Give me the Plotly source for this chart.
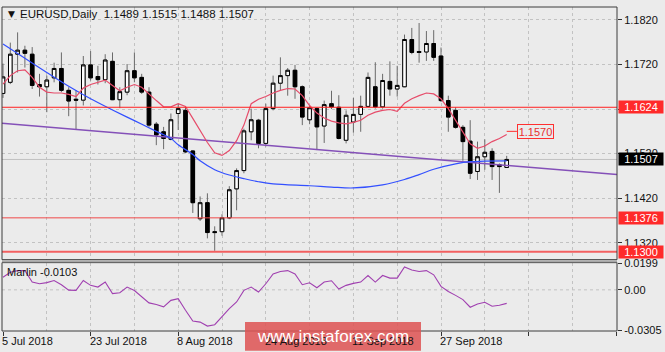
import plotly.graph_objects as go

# ---------------- data ----------------
dates = ["2018-07-05","2018-07-06","2018-07-09","2018-07-10","2018-07-11","2018-07-12","2018-07-13",
         "2018-07-16","2018-07-17","2018-07-18","2018-07-19","2018-07-20","2018-07-23","2018-07-24",
         "2018-07-25","2018-07-26","2018-07-27","2018-07-30","2018-07-31","2018-08-01","2018-08-02",
         "2018-08-03","2018-08-06","2018-08-07","2018-08-08","2018-08-09","2018-08-10","2018-08-13",
         "2018-08-14","2018-08-15","2018-08-16","2018-08-17","2018-08-20","2018-08-21","2018-08-22",
         "2018-08-23","2018-08-24","2018-08-27","2018-08-28","2018-08-29","2018-08-30","2018-08-31",
         "2018-09-03","2018-09-04","2018-09-05","2018-09-06","2018-09-07","2018-09-10","2018-09-11",
         "2018-09-12","2018-09-13","2018-09-14","2018-09-17","2018-09-18","2018-09-19","2018-09-20",
         "2018-09-21","2018-09-24","2018-09-25","2018-09-26","2018-09-27","2018-09-28","2018-10-01",
         "2018-10-02","2018-10-03","2018-10-04","2018-10-05","2018-10-08","2018-10-09","2018-10-10"]

opens = [1.1655,1.1680,1.1743,1.1752,1.1743,1.1675,1.1670,1.1690,1.1711,1.1662,
         1.1642,1.1640,1.1719,1.1693,1.1686,1.1727,1.1641,1.1658,1.1706,1.1691,
         1.1658,1.1586,1.1569,1.1552,1.1610,1.1617,1.1526,1.1374,1.1410,1.1345,
         1.1345,1.1376,1.1441,1.1482,1.1569,1.1595,1.1543,1.1621,1.1678,1.1695,
         1.1707,1.1670,1.1596,1.1621,1.1582,1.1632,1.1624,1.1550,1.1591,1.1608,
         1.1626,1.1670,1.1625,1.1682,1.1665,1.1670,1.1776,1.1749,1.1748,1.1767,
         1.1739,1.1639,1.1617,1.1579,1.1548,1.1480,1.1513,1.1525,1.1495,1.1489]
highs = [1.1722,1.1769,1.1792,1.1762,1.1759,1.1699,1.1695,1.1724,1.1747,1.1669,
         1.1662,1.1739,1.1750,1.1717,1.1743,1.1747,1.1669,1.1721,1.1747,1.1699,
         1.1669,1.1591,1.1580,1.1610,1.1632,1.1626,1.1528,1.1424,1.1431,1.1357,
         1.1384,1.1447,1.1487,1.1576,1.1621,1.1598,1.1632,1.1695,1.1736,1.1712,
         1.1719,1.1673,1.1628,1.1624,1.1639,1.1661,1.1651,1.1617,1.1645,1.1650,
         1.1702,1.1725,1.1699,1.1727,1.1717,1.1787,1.1802,1.1813,1.1795,1.1797,
         1.1758,1.1650,1.1624,1.1584,1.1595,1.1547,1.1552,1.1532,1.1498,1.1515]
lows = [1.1645,1.1676,1.1702,1.1713,1.1665,1.1648,1.1613,1.1680,1.1658,1.1604,
        1.1573,1.1628,1.1684,1.1675,1.1678,1.1640,1.1622,1.1651,1.1680,1.1654,
        1.1580,1.1539,1.1530,1.1550,1.1573,1.1521,1.1387,1.1369,1.1330,1.1302,
        1.1336,1.1373,1.1393,1.1476,1.1550,1.1532,1.1536,1.1617,1.1662,1.1650,
        1.1643,1.1584,1.1586,1.1528,1.1544,1.1620,1.1552,1.1543,1.1567,1.1569,
        1.1624,1.1621,1.1621,1.1650,1.1648,1.1669,1.1743,1.1724,1.1728,1.1728,
        1.1636,1.1569,1.1576,1.1504,1.1463,1.1461,1.1484,1.1461,1.1432,1.1488]
closes = [1.1692,1.1743,1.1752,1.1745,1.1673,1.1670,1.1685,1.1711,1.1662,1.1638,
          1.1640,1.1719,1.1690,1.1686,1.1730,1.1641,1.1659,1.1706,1.1690,1.1658,
          1.1584,1.1562,1.1554,1.1596,1.1621,1.1524,1.1410,1.1410,1.1343,1.1343,
          1.1376,1.1439,1.1482,1.1571,1.1596,1.1543,1.1621,1.1678,1.1695,1.1707,
          1.1670,1.1602,1.1623,1.1580,1.1630,1.1625,1.1554,1.1606,1.1608,1.1626,
          1.1691,1.1625,1.1684,1.1665,1.1673,1.1776,1.1747,1.1747,1.1767,1.1736,
          1.1639,1.1602,1.1579,1.1547,1.1476,1.1513,1.1523,1.1491,1.1491,1.1507]

red_ma = [1.1676,1.1695,1.1706,1.1708,1.1691,1.1669,1.1658,1.1656,1.1656,1.1653,
          1.1648,1.1667,1.1675,1.1680,1.1685,1.1673,1.1661,1.1669,1.1675,1.1669,
          1.1653,1.1639,1.1625,1.1625,1.1632,1.1626,1.1599,1.1571,1.1545,1.1522,
          1.1516,1.1527,1.1549,1.1584,1.1632,1.1642,1.1648,1.1656,1.1662,1.1666,
          1.1665,1.1650,1.1628,1.1611,1.1600,1.1593,1.1589,1.1587,1.1590,1.1595,
          1.1606,1.1613,1.1617,1.1619,1.1615,1.1633,1.1643,1.1650,1.1656,1.1654,
          1.1643,1.1621,1.1595,1.1567,1.1542,1.1532,1.1537,1.1547,1.1554,1.1563]

blue_bars = [0, 3, 6, 9, 12, 15, 18, 21, 23, 24, 26, 27, 29, 31, 33, 35, 37, 42, 45, 48,
             52, 55, 57, 59, 62, 64, 66, 69]
blue_ma = [1.1766,1.1734,1.1702,1.1671,1.1643,1.1618,1.1594,1.1570,1.1554,1.1540,1.1518,1.1504,
           1.1484,1.1472,1.1464,1.1457,1.1452,1.1448,1.1445,1.1443,1.1450,1.1462,1.1473,1.1485,
           1.1497,1.1502,1.1503,1.1504]

marlin = [0.0096,0.0134,0.0146,0.0146,0.0059,0.0046,0.0055,0.0071,0.0039,-0.0002,
          -0.0004,0.0071,0.0034,0.0021,0.0059,-0.0029,-0.0022,0.0021,-0.0005,-0.0055,
          -0.0099,-0.0112,-0.0129,-0.0080,-0.0067,-0.0155,-0.0237,-0.0245,-0.0275,-0.0265,
          -0.0204,-0.0142,-0.0092,-0.0004,0.0021,-0.0017,0.0046,0.0121,0.0139,0.0146,
          0.0121,0.0039,0.0054,0.0016,0.0059,0.0069,0.0006,0.0034,0.0049,0.0059,
          0.0109,0.0059,0.0109,0.0089,0.0089,0.0174,0.0151,0.0139,0.0146,0.0114,
          0.0026,-0.0012,-0.0042,-0.0074,-0.0132,-0.0107,-0.0094,-0.0124,-0.0117,-0.0103]

trend_bars = [-0.14, 84.11]
trend_vals = [1.1588, 1.1473]

levels = [1.1624, 1.1376, 1.1300]
bid = 1.1507
target = 1.1570

price_ticks = [1.1320, 1.1420, 1.1520, 1.1620, 1.1720, 1.1820]
price_text = ["1.1320", "1.1420", "1.1520", "", "1.1720", "1.1820"]  # 1.1620 sits under the 1.1624 label
marlin_ticks = [0.0199, 0.0, -0.0305]
marlin_text = ["0.0199", "0.00", "-0.0305"]
date_tick_bars = [0, 12, 24, 36, 48, 60]
date_tick_text = ["5 Jul 2018", "23 Jul 2018", "8 Aug 2018", "24 Aug 2018", "11 Sep 2018", "27 Sep 2018"]

# ---------------- figure ----------------
x = list(range(len(dates)))
body_hi = [max(o, c) for o, c in zip(opens, closes)]
body_lo = [min(o, c) for o, c in zip(opens, closes)]

FONT = "Liberation Sans, Arial, sans-serif"
BG = "#ebebeb"
GRID = "#c2c2c2"

fig = go.Figure()

# wicks
fig.add_trace(go.Candlestick(
    x=x, open=opens, high=highs, low=lows, close=closes,
    increasing=dict(line=dict(color="#6a6a6a", width=1), fillcolor="#6a6a6a"),
    decreasing=dict(line=dict(color="#6a6a6a", width=1), fillcolor="#6a6a6a"),
    hoverinfo="skip", showlegend=False, xaxis="x", yaxis="y"))
# bodies
fig.add_trace(go.Candlestick(
    x=x, open=opens, high=body_hi, low=body_lo, close=closes,
    increasing=dict(line=dict(color="#000000", width=1), fillcolor="#ffffff"),
    decreasing=dict(line=dict(color="#000000", width=1), fillcolor="#000000"),
    hoverinfo="skip", showlegend=False, xaxis="x", yaxis="y"))

fig.add_trace(go.Scatter(x=trend_bars, y=trend_vals, mode="lines",
                         line=dict(color="#8450b8", width=1.5), hoverinfo="skip",
                         showlegend=False, xaxis="x", yaxis="y"))
fig.add_trace(go.Scatter(x=blue_bars, y=blue_ma, mode="lines", line_shape="spline",
                         line=dict(color="#3350ff", width=1.2), hoverinfo="skip",
                         showlegend=False, xaxis="x", yaxis="y"))
fig.add_trace(go.Scatter(x=x, y=red_ma, mode="lines",
                         line=dict(color="#e64c6a", width=1.2), hoverinfo="skip",
                         showlegend=False, xaxis="x", yaxis="y"))
fig.add_trace(go.Scatter(x=x, y=marlin, mode="lines",
                         line=dict(color="#a040b0", width=1.1), hoverinfo="skip",
                         showlegend=False, xaxis="x2", yaxis="y2"))

# geometry (pixels): plot area x 2..617, y 4..331 ; bar spacing 7.3 px, bar 0 at x=3
W, H = 665, 352
L, R, T, B = 2, 48, 4, 21
spacing = 7.3
x0 = -(3 - L) / spacing
x1 = x0 + (W - L - R) / spacing
ph = H - T - B
main_dom = [(331 - 259) / ph, 1]
ind_dom = [0, (331 - 262) / ph]
main_rng = [1.1720 - (259 - 62) / 4500, 1.1720 + (62 - 4) / 4500]
ind_rng = [-0.0305 - 1 / 1330, 0.0199 + 1 / 1330]

major6 = list(range(0, 85, 12))
minor6 = list(range(6, 85, 12))

axfont = dict(family=FONT, size=11, color="#111111")
common_x = dict(range=[x0, x1], showline=False, zeroline=False,
                tickmode="array", tickvals=major6, showgrid=True, gridcolor=GRID,
                griddash="3px,3px", gridwidth=1,
                minor=dict(tickmode="array", tickvals=minor6, showgrid=True, gridcolor=GRID,
                           griddash="3px,3px", gridwidth=1, ticks=""),
                rangeslider=dict(visible=False), fixedrange=True)

fig.update_layout(
    width=W, height=H, margin=dict(l=L, r=R, t=T, b=B),
    paper_bgcolor=BG, plot_bgcolor=BG, showlegend=False, hovermode=False,
    xaxis=dict(**common_x, anchor="y", showticklabels=False, ticks=""),
    xaxis2=dict(**common_x, anchor="y2", matches="x", showticklabels=False,
                ticks="outside", ticklen=4, tickcolor="#333333"),
    yaxis=dict(domain=main_dom, range=main_rng, side="right", anchor="x",
               tickmode="array", tickvals=price_ticks, ticktext=price_text,
               ticks="outside", ticklen=4, tickcolor="#333333", tickfont=axfont,
               showgrid=True, gridcolor=GRID, griddash="3px,3px", zeroline=False,
               showline=False, fixedrange=True),
    yaxis2=dict(domain=ind_dom, range=ind_rng, side="right", anchor="x2",
                tickmode="array", tickvals=marlin_ticks, ticktext=marlin_text,
                ticks="outside", ticklen=4, tickcolor="#333333", tickfont=axfont,
                showgrid=False, zeroline=False, showline=False, fixedrange=True),
)

shapes = []
lvl_style = [("#ff2020", 1), ("#f04848", 1), ("#f26060", 2)]
for v, (col, w) in zip(levels, lvl_style):
    shapes.append(dict(type="line", xref="x domain", yref="y", x0=0, x1=1, y0=v, y1=v,
                       line=dict(color=col, width=w), layer="above"))
shapes.append(dict(type="line", xref="x domain", yref="y", x0=0, x1=1, y0=bid, y1=bid,
                   line=dict(color="#c0c0c0", width=1), layer="below"))
shapes.append(dict(type="line", xref="x2 domain", yref="y2", x0=0, x1=1, y0=0, y1=0,
                   line=dict(color=GRID, width=1, dash="3px,3px"), layer="below"))
shapes.append(dict(type="line", xref="x", yref="y", x0=69, x1=70.4, y0=target, y1=target,
                   line=dict(color="#ff3030", width=1), layer="above"))
shapes.append(dict(type="rect", xref="x domain", yref="y domain", x0=0, x1=1, y0=0, y1=1,
                   line=dict(color="#3c3c3c", width=1), layer="above"))
shapes.append(dict(type="rect", xref="x2 domain", yref="y2 domain", x0=0, x1=1, y0=0, y1=1,
                   line=dict(color="#3c3c3c", width=1), layer="above"))
shapes.append(dict(type="rect", xref="paper", yref="paper", x0=0, x1=1,
                   y0=main_dom[0] - 0.5 / ph, y1=ind_dom[1] + 0.5 / ph,
                   fillcolor="#a8a8a8", line=dict(width=0), layer="above"))
px = lambda v: (v - L) / (W - L - R)
py = lambda v: (H - B - v) / ph
shapes.append(dict(type="rect", xref="paper", yref="paper", x0=px(245), x1=px(421),
                   y0=py(351), y1=py(322), fillcolor="rgba(222,84,84,0.86)",
                   line=dict(width=0), layer="above"))

ann = []
ann.append(dict(xref="paper", yref="paper", x=px(6), y=py(11), xanchor="left", yanchor="middle",
                text="▼", showarrow=False, font=dict(family="DejaVu Sans", size=9, color="#111")))
ann.append(dict(xref="paper", yref="paper", x=px(18), y=py(11), xanchor="left", yanchor="middle",
                text="EURUSD,Daily  1.1489 1.1515 1.1488 1.1507", showarrow=False,
                font=dict(family=FONT, size=11.5, color="#111")))
ann.append(dict(xref="paper", yref="paper", x=px(5), y=py(271.5), xanchor="left", yanchor="middle",
                text="Marlin -0.0103", showarrow=False, font=dict(family=FONT, size=11, color="#111")))
for v, bg in [(1.1624, "#ff2a2a"), (1.1507, "#000000"), (1.1376, "#ff2a2a"), (1.1300, "#ff2a2a")]:
    ann.append(dict(xref="paper", yref="y", x=1, y=v, xanchor="left", yanchor="middle", xshift=1,
                    text=f"{v:.4f}", showarrow=False, bgcolor=bg, width=44, height=12,
                    borderpad=0, align="center", valign="middle",
                    font=dict(family=FONT, size=11, color="#ffffff")))
ann.append(dict(xref="x", yref="y", x=70.4, y=target, xanchor="left", yanchor="middle",
                text=f"{target:.4f}", showarrow=False, bgcolor=BG, bordercolor="#ff3030",
                borderwidth=1, borderpad=0, width=35, height=13,
                font=dict(family=FONT, size=11, color="#e83030")))
for b, t in zip(date_tick_bars, date_tick_text):
    ann.append(dict(xref="x2", yref="paper", x=b, y=py(341), xanchor="left", yanchor="middle",
                    xshift=-3, text=t, showarrow=False, font=dict(family=FONT, size=11, color="#111")))
ann.append(dict(xref="paper", yref="paper", x=px(333), y=py(336.5), xanchor="center", yanchor="middle",
                text="www.instaforex.com", showarrow=False,
                font=dict(family=FONT, size=17, color="#ffffff")))

fig.update_layout(shapes=shapes, annotations=ann)

fig.write_html("out.html", config=dict(displayModeBar=False, staticPlot=True))
